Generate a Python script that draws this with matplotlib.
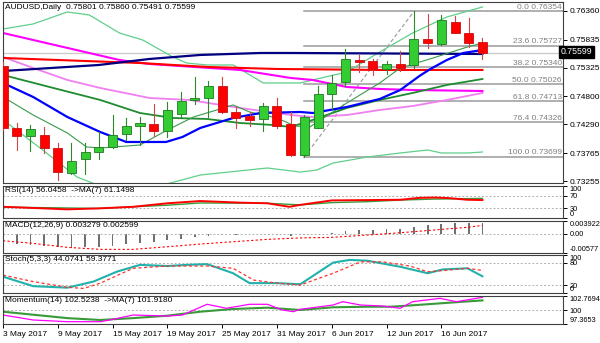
import matplotlib.pyplot as plt
from matplotlib.patches import Rectangle

plt.rcParams['font.family'] = ['Liberation Sans', 'DejaVu Sans']

# ---- daily AUDUSD bars, 3 May .. 21 Jun 2017 ----
opens = [0.75356, 0.74229, 0.74083, 0.74096, 0.73864, 0.73407, 0.73651, 0.73780, 0.73871, 0.74108,
         0.74260, 0.74297, 0.74175, 0.74479, 0.74735, 0.74766, 0.74996, 0.74521, 0.74448, 0.74382,
         0.74625, 0.74297, 0.73730, 0.74229, 0.74844, 0.75058, 0.75465, 0.75452, 0.75301, 0.75386,
         0.75374, 0.75849, 0.75757, 0.76165, 0.75964, 0.75801]
highs = [0.75420, 0.74315, 0.74279, 0.74248, 0.73944, 0.73955, 0.73944, 0.74156, 0.74461, 0.74400,
         0.74430, 0.74657, 0.74704, 0.74887, 0.75160, 0.75082, 0.75160, 0.74613, 0.74521, 0.74686,
         0.74766, 0.74521, 0.74461, 0.74990, 0.75191, 0.75661, 0.75557, 0.75484, 0.75452, 0.75630,
         0.76354, 0.76305, 0.76287, 0.76269, 0.76227, 0.75860]
lows = [0.74190, 0.73822, 0.73804, 0.73772, 0.73273, 0.73384, 0.73384, 0.73651, 0.73853, 0.74004,
        0.73913, 0.74078, 0.74065, 0.74400, 0.74657, 0.74430, 0.74492, 0.74218, 0.74260, 0.74169,
        0.74229, 0.73712, 0.73699, 0.74218, 0.74565, 0.74990, 0.75241, 0.75191, 0.75210, 0.75264,
        0.75313, 0.75679, 0.75739, 0.75953, 0.75708, 0.75491]
closes = [0.74223, 0.74077, 0.74199, 0.73853, 0.73425, 0.73621, 0.73780, 0.73882, 0.74096, 0.74260,
          0.74309, 0.74175, 0.74552, 0.74722, 0.74766, 0.74990, 0.74521, 0.74412, 0.74370, 0.74625,
          0.74260, 0.73730, 0.74430, 0.74844, 0.75040, 0.75484, 0.75434, 0.75295, 0.75392, 0.75325,
          0.75849, 0.75770, 0.76196, 0.75964, 0.75781, 0.75599]

date_pos = [0, 4, 8, 12, 16, 20, 24, 28, 32]
date_labels = ["3 May 2017", "9 May 2017", "15 May 2017", "19 May 2017", "25 May 2017",
               "31 May 2017", "6 Jun 2017", "12 Jun 2017", "16 Jun 2017"]

price_ticks = [0.76360, 0.75835, 0.75325, 0.74800, 0.74290, 0.73765, 0.73255]
last_price = 0.75599

# fibonacci retracement 1 Jun low -> 14 Jun high
fib_levels = ["0.0", "23.6", "38.2", "50.0", "61.8", "76.4", "100.0"]
fib_prices = [0.76354, 0.75727, 0.75340, 0.75026, 0.74713, 0.74326, 0.73699]
fib_start, fib_end = 22, 30

# moving averages / bands (bar index, price)
bb_up_x = [0, 2.2, 4.7, 6.3, 8.5, 10.2, 12.4, 13.4, 14.9, 16.8, 19, 21.7, 22.6, 25.1, 27.5, 29.9, 32.4, 35]
bb_up = [0.76031, 0.76123, 0.76342, 0.76287, 0.75958, 0.75830, 0.75520, 0.75410, 0.75374, 0.75374,
         0.75045, 0.75045, 0.75100, 0.75246, 0.75611, 0.75958, 0.76250, 0.76433]
bb_lo_x = [0, 0.5, 2.9, 5.4, 6.9, 8, 10, 11.7, 14.4, 19.3, 21.7, 22.9, 24.1, 26.6, 29, 31, 32, 33.9, 35]
bb_lo = [0.74352, 0.74278, 0.73822, 0.73329, 0.73183, 0.73091, 0.73091, 0.73183, 0.73365, 0.73493,
         0.73419, 0.73456, 0.73584, 0.73694, 0.73767, 0.73822, 0.73767, 0.73767, 0.73785]
ma20_x = [0, 3.4, 7.1, 10, 12.4, 14.9, 17.3, 19.7, 21, 22.6, 25.1, 27.5, 29.9, 32.4, 35]
ma20 = [0.75191, 0.74972, 0.74735, 0.74497, 0.74406, 0.74388, 0.74315, 0.74278, 0.74242, 0.74370,
        0.74589, 0.74735, 0.74863, 0.75009, 0.75118]
ma10_x = [0, 2.2, 4.7, 7.1, 9, 11.9, 13.1, 14.4, 16.8, 18.8, 21.7, 22.6, 25.1, 27.5, 29, 30.4, 31.2, 32.4, 33.6, 35]
ma10 = [0.75045, 0.74790, 0.74424, 0.74150, 0.73968, 0.73968, 0.74059, 0.74224, 0.74406, 0.74497,
        0.74516, 0.74497, 0.74607, 0.74753, 0.74917, 0.75173, 0.75301, 0.75465, 0.75593, 0.75648]
ma5_x = [0, 2.2, 4.7, 6.1, 7.1, 10, 12, 13.9, 15.6, 16.8, 18, 20, 21.3, 22.4, 23.4, 25.1, 27.5, 29, 31.4, 33.9, 35]
ma5 = [0.74790, 0.74461, 0.74132, 0.73877, 0.73858, 0.73913, 0.74187, 0.74424, 0.74552, 0.74644,
       0.74516, 0.74406, 0.74260, 0.74242, 0.74406, 0.74680, 0.75045, 0.75319, 0.75502, 0.75703, 0.75776]
ma55_x = [0, 2.2, 4.7, 7.1, 10.7, 13.6, 17.3, 21, 22.6, 25.1, 27.5, 29.9, 32.4, 35]
ma55 = [0.75520, 0.75319, 0.75100, 0.74954, 0.74771, 0.74735, 0.74589, 0.74461, 0.74424, 0.74461,
        0.74552, 0.74625, 0.74735, 0.74863]
ma100_x = [0, 8.5, 10.7, 17.3, 21, 22.6, 25.1, 27.5, 29.9, 35]
ma100 = [0.75958, 0.75465, 0.75392, 0.75283, 0.75137, 0.75100, 0.74972, 0.74936, 0.74917, 0.74899]
ma200_x = [0, 10, 15, 20, 27.5, 35]
ma200 = [0.75502, 0.75410, 0.75337, 0.75301, 0.75283, 0.75283]
ma30_x = [0, 7, 10.7, 14.4, 18.8, 21, 35]
ma30 = [0.75264, 0.75374, 0.75484, 0.75557, 0.75593, 0.75593, 0.75575]

# RSI(14) and its MA(7)
rsi_x = [0, 3, 4.7, 7, 9.5, 12, 14.4, 15.6, 17.3, 19.3, 20.9, 21.7, 24, 26.6, 29, 30.4, 31.6, 32.6, 33.9, 35]
rsi = [35, 30, 27, 30, 35, 46, 53, 51, 48, 46, 35, 41, 55, 56, 57, 63, 64, 62, 57, 56.05]
rsi_ma_x = [0, 7, 12, 14.4, 19.3, 21.7, 24, 26.6, 29, 31.4, 35]
rsi_ma = [34, 30, 40, 47, 46, 41, 48, 51, 56, 59, 61.15]

# MACD(12,26,9): main as histogram, signal as dotted line
macd = [-0.0028, -0.0031, -0.0033, -0.0035, -0.0040, -0.0042, -0.0041, -0.0039, -0.0035, -0.0031,
        -0.0027, -0.0024, -0.0019, -0.0014, -0.0010, -0.0006, -0.0004, -0.0004, -0.0003, -0.0001,
        -0.0002, -0.0007, -0.0004, 0.0000, 0.0004, 0.0009, 0.0012, 0.0013, 0.0015, 0.0016,
        0.0022, 0.0026, 0.0031, 0.0034, 0.0034, 0.003279]
signal_x = [0, 2.2, 4.7, 7.1, 9.5, 12, 14.4, 16.8, 19.3, 21.7, 24, 26.6, 29, 31.4, 33.9, 35]
signal = [-0.00206, -0.00285, -0.00406, -0.00467, -0.00467, -0.00388, -0.00306, -0.00236, -0.00164,
          -0.00120, -0.00103, -0.00033, 0.00036, 0.00118, 0.00200, 0.002599]

# Stochastic(5,3,3)
stoch_k_x = [0, 2.2, 4.7, 6.6, 8.3, 10, 12, 13.4, 14.9, 16.8, 18, 20, 21.7, 24.1, 25.3, 26.6, 29, 31, 32.1, 33.9, 35]
stoch_k = [43, 18, 14, 30, 56, 74, 71, 74, 76, 52, 26, 26, 23, 80, 87, 85, 69, 52, 62, 65, 44.07]
stoch_d_x = [0, 2.2, 4.7, 5.9, 7.1, 9.5, 12, 14.9, 16.8, 18.3, 20, 21.7, 24.1, 26.1, 27.7, 29.7, 31, 32.1, 33.9, 35]
stoch_d = [47, 30, 15, 12, 26, 65, 71, 71, 65, 34, 26, 21, 52, 82, 82, 71, 56, 59, 65, 59.38]

# Momentum(14) and its MA(7)
mom_x = [0, 2.2, 4.7, 7.1, 7.8, 9.5, 12, 13.1, 14.9, 16.3, 18, 19.3, 20.4, 21.2, 21.7, 24.1, 24.8, 26.1,
         27.7, 29, 29.9, 31.9, 33.1, 35]
mom = [99.10, 98.14, 97.81, 97.81, 98.14, 99.10, 98.90, 99.10, 101.17, 100.40, 101.17, 101.17, 100.07,
       99.74, 100.20, 101.03, 101.67, 101.03, 100.84, 100.40, 101.67, 102.32, 101.67, 102.52]
mom_ma_x = [0, 4.7, 7.1, 9.5, 12, 14.4, 16.8, 19.3, 21.7, 24.1, 26.6, 28.3, 30.2, 32.6, 35]
mom_ma = [99.74, 98.50, 98.14, 98.50, 98.97, 99.74, 100.26, 100.51, 100.07, 100.59, 100.70, 100.70,
          101.03, 101.48, 101.92]

W, H = 600, 343
XMAX = 40.88
FS = 6.0
FS_SUB = 5.3


def panel(top, bottom, lsize=FS):
    a = fig.add_axes([3 / W, 1 - bottom / H, 560 / W, (bottom - top) / H])
    a.set_xlim(0, XMAX)
    a.set_xticks([])
    a.yaxis.tick_right()
    a.tick_params(axis="y", length=3, width=0.7, pad=1.5, labelsize=lsize)
    for s in a.spines.values():
        s.set_linewidth(0.8)
        s.set_color("#404040")
    return a


def edge_labels(a, ticks, labels):
    # first label hugs the top border, last one the bottom border
    a.set_yticks(ticks)
    a.set_yticklabels(labels)
    tl = a.get_yticklabels()
    tl[0].set_va("top")
    tl[-1].set_va("bottom")


fig = plt.figure(figsize=(6, 3.43), dpi=100)
fig.patch.set_facecolor("white")

# ---- main price window ----
ax = panel(2, 183)
ax.set_ylim(0.73219, 0.76524)
ax.set_yticks(price_ticks)
ax.set_yticklabels([f"{p:.5f}" for p in price_ticks])

ax.axhline(last_price, color="#c8c8c8", lw=0.9, zorder=1)
for lvl, p in zip(fib_levels, fib_prices):
    ax.plot([fib_start, XMAX], [p, p], color="#9a9a9a", lw=1.1, zorder=1)
    ax.text(XMAX - 0.1, p + 0.00004, f"{lvl} {p:.5f}", ha="right", va="bottom",
            fontsize=FS, color="#808080", zorder=2)
ax.plot([fib_start, fib_end], [fib_prices[-1], fib_prices[0]], color="#a0a0a0",
        lw=0.9, ls=(0, (3, 2)), zorder=1)

ax.plot(bb_up_x, bb_up, color="#5fcf8a", lw=0.9, zorder=2)
ax.plot(bb_lo_x, bb_lo, color="#5fcf8a", lw=0.9, zorder=2)
ax.plot(ma55_x, ma55, color="#f07ff0", lw=1.3, zorder=2)
ax.plot(ma100_x, ma100, color="#ff00ff", lw=1.5, zorder=2)
ax.plot(ma200_x, ma200, color="#ff0000", lw=1.5, zorder=2)
ax.plot(ma30_x, ma30, color="#000080", lw=1.6, zorder=2)
ax.plot(ma20_x, ma20, color="#1e8c2e", lw=1.3, zorder=2)
ax.plot(ma5_x, ma5, color="#3a9a4a", lw=0.8, zorder=2)
ax.plot(ma10_x, ma10, color="#0000ff", lw=1.6, zorder=2)

body_w = 0.66
for i, (o, h, l, c) in enumerate(zip(opens, highs, lows, closes)):
    up = c >= o
    edge = "#1f7a1f" if up else "#c81010"
    fill = "#33cc33" if up else "#ff0000"
    wick = "#2a8a2a" if up else "#d04848"
    ax.plot([i, i], [l, h], color=wick, lw=0.8, zorder=3)
    lo, hi = min(o, c), max(o, c)
    ax.add_patch(Rectangle((i - body_w / 2, lo), body_w, max(hi - lo, 0.00004),
                           facecolor=fill, edgecolor=edge, lw=0.6, zorder=4))

ax.text(0.15, 0.76490, "AUDUSD,Daily  0.75801 0.75860 0.75491 0.75599", fontsize=FS,
        va="top", ha="left", color="black", zorder=6)
fig.text(561 / W, 1 - 52 / H, f"{last_price:.5f}", fontsize=FS + 0.3, color="white", va="center",
         ha="left", bbox=dict(boxstyle="square,pad=0.2", facecolor="black", edgecolor="black"))

# ---- RSI ----
ax_rsi = panel(186, 218, FS_SUB)
ax_rsi.set_ylim(0, 100)
edge_labels(ax_rsi, [100, 70, 30, 0], ["100", "70", "30", "0"])
for v in (70, 30):
    ax_rsi.axhline(v, color="#b0b0b0", lw=0.7, ls=(0, (2, 2)))
ax_rsi.plot(rsi_ma_x, rsi_ma, color="#3a9a3a", lw=1.0)
ax_rsi.plot(rsi_x, rsi, color="#ff0000", lw=1.4)
ax_rsi.text(0.15, 97, "RSI(14) 56.0458  ->MA(7) 61.1498", fontsize=FS, va="top", ha="left")

# ---- MACD ----
ax_macd = panel(221, 253, FS_SUB)
ax_macd.set_ylim(-0.00577, 0.003922)
edge_labels(ax_macd, [0.003922, 0.0, -0.00577], ["0.003922", "0.00", "-0.00577"])
ax_macd.axhline(0, color="#b0b0b0", lw=0.7, ls=(0, (2, 2)))
ax_macd.bar(range(len(macd)), macd, width=0.13, color="#707070")
ax_macd.plot(signal_x, signal, color="#ff0000", lw=0.8, ls=(0, (2, 2)))
ax_macd.text(0.15, 0.00375, "MACD(12,26,9) 0.003279 0.002599", fontsize=FS, va="top", ha="left")

# ---- Stochastic ----
ax_st = panel(255, 293, FS_SUB)
ax_st.set_ylim(0, 100)
edge_labels(ax_st, [100, 80, 20, 0], ["100", "80", "20", "0"])
for v in (80, 20):
    ax_st.axhline(v, color="#b0b0b0", lw=0.7, ls=(0, (2, 2)))
ax_st.plot(stoch_k_x, stoch_k, color="#20b2aa", lw=1.5)
ax_st.plot(stoch_d_x, stoch_d, color="#ff3030", lw=0.9, ls=(0, (2.5, 2)))
ax_st.text(0.15, 97, "Stoch(5,3,3) 44.0741 59.3771", fontsize=FS, va="top", ha="left")

# ---- Momentum ----
ax_m = panel(296, 324, FS_SUB)
ax_m.set_ylim(97.3653, 102.7694)
edge_labels(ax_m, [102.7694, 100, 97.3653], ["102.7694", "100", "97.3653"])
ax_m.axhline(100, color="#b0b0b0", lw=0.7, ls=(0, (2, 2)))
ax_m.plot(mom_ma_x, mom_ma, color="#3a9a3a", lw=1.5)
ax_m.plot(mom_x, mom, color="#ff00ff", lw=0.9)
ax_m.text(0.15, 102.65, "Momentum(14) 102.5238  ->MA(7) 101.9180", fontsize=FS, va="top", ha="left")
ax_m.set_xticks(date_pos)
ax_m.set_xticklabels(date_labels, fontsize=FS, ha="left")
ax_m.tick_params(axis="x", length=3, width=0.7, pad=2)

fig.savefig("out.png", dpi=100)
